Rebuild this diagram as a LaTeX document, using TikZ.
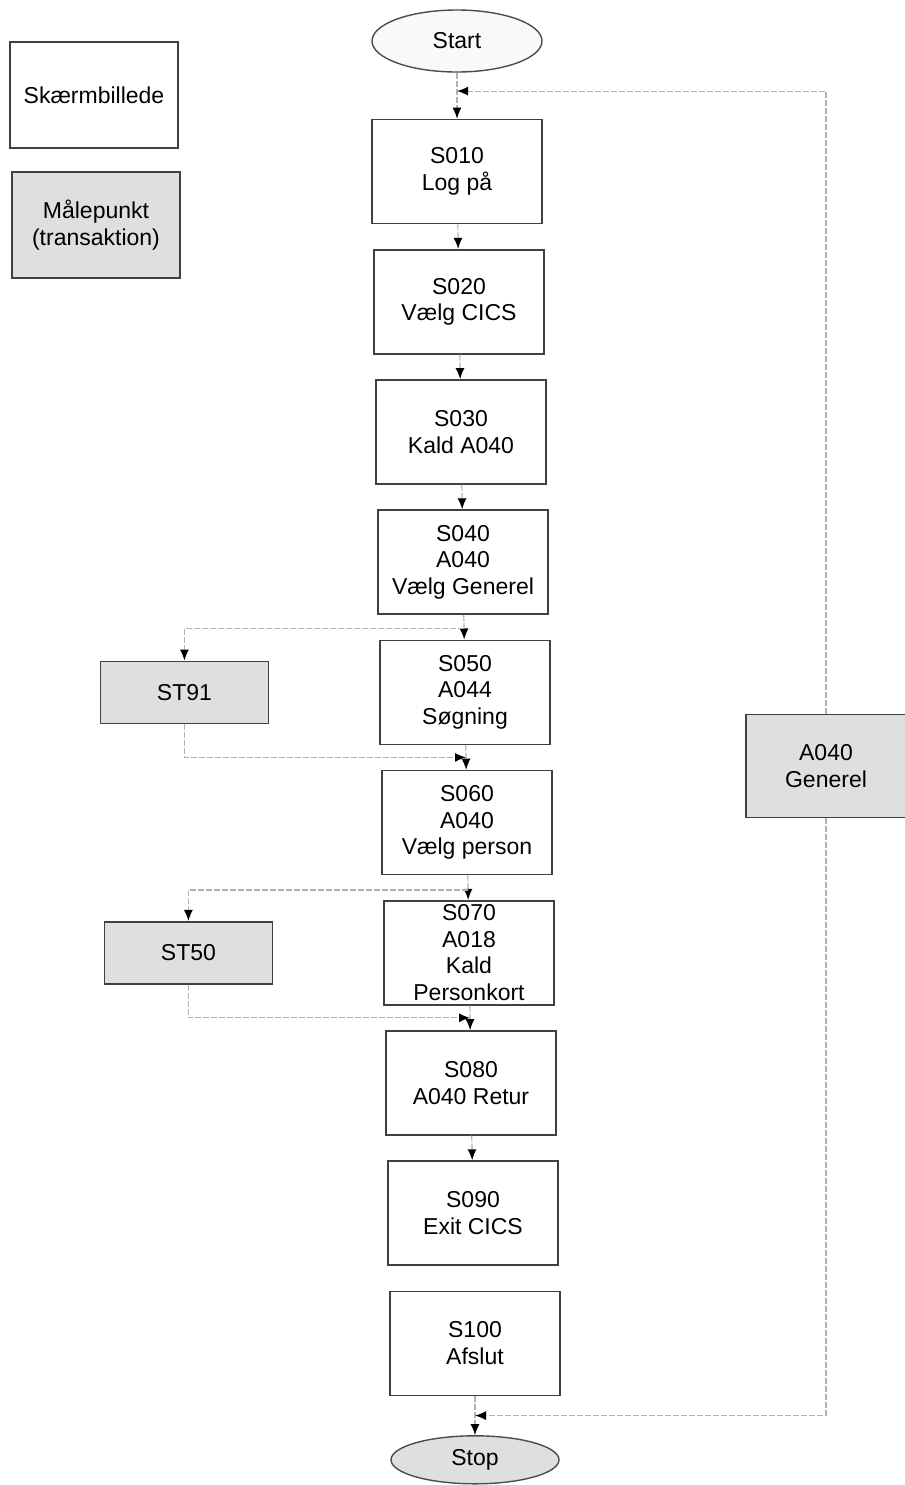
\documentclass[tikz,border=0pt]{standalone}
\usepackage{fontspec}
\setmainfont{Liberation Sans}
\usetikzlibrary{arrows.meta,positioning,shapes.geometric,calc}

\begin{document}
\begin{tikzpicture}[x=0.5pt,y=-0.5pt,node distance=12.3pt,
  font=\fontsize{11.5}{13.25}\selectfont,
  box/.style={draw=black!75,line width=0.8pt,align=center,minimum width=85pt,minimum height=52pt,inner sep=1pt,fill=white},
  mp/.style={box,fill=gray!25,minimum width=84pt,minimum height=31pt},
  term/.style={ellipse,draw=black!70,line width=0.7pt,minimum width=85pt,minimum height=31pt,inner sep=0pt},
  arr/.style={draw=gray!60,line width=0.6pt,dash pattern=on 3pt off 1pt,-{Latex[length=5.5pt,width=4.5pt,color=black]}}]
\useasboundingbox (0,0) rectangle (905,1485);
% legend
\node[box,minimum width=84pt,minimum height=53pt] (leg1) at (94,95) {Skærmbillede};
\node[box,fill=gray!25,minimum width=84pt,minimum height=53pt] (leg2) at (96,225) {Målepunkt\\(transaktion)};
% main flow
\node[term,fill=gray!5] (start) at (457,41) {Start};
\node[box,below=23pt of start] (s010) {S010\\Log på};
\node[box,below=of s010,xshift=1pt] (s020) {S020\\Vælg CICS};
\node[box,below=of s020,xshift=1pt] (s030) {S030\\Kald A040};
\node[box,below=of s030,xshift=1pt] (s040) {S040\\A040\\Vælg Generel};
\node[box,below=of s040,xshift=1pt] (s050) {S050\\A044\\Søgning};
\node[box,below=of s050,xshift=1pt] (s060) {S060\\A040\\Vælg person};
\node[box,below=of s060,xshift=1pt] (s070) {S070\\A018\\Kald\\Personkort};
\node[box,below=of s070,xshift=1pt] (s080) {S080\\A040 Retur};
\node[box,below=of s080,xshift=1pt] (s090) {S090\\Exit CICS};
\node[box,below=of s090,xshift=1pt] (s100) {S100\\Afslut};
\node[term,fill=gray!25,minimum width=84pt,minimum height=24pt,below=19.5pt of s100] (stop) {Stop};
% measuring points
\node[mp,left=55pt of s050] (st91) {ST91};
\node[mp,left=55pt of s070] (st50) {ST50};
\node[box,fill=gray!25,minimum width=80pt,minimum height=51.5pt] (gen) at (826,766) {A040\\Generel};
\coordinate (j1) at ($(s040.south)!0.55!(s050.north)$);
\coordinate (j2) at ($(s050.south)!0.5!(s060.north)$);
\coordinate (j3) at ($(s060.south)!0.6!(s070.north)$);
\coordinate (j4) at ($(s070.south)!0.5!(s080.north)$);
\coordinate (ltop) at ($(start.south)!0.4!(s010.north)$);
\coordinate (lbot) at ($(s100.south)!0.5!(stop.north)$);
\draw[arr](start)--(s010);\draw[arr](s010)--(s020);\draw[arr](s020)--(s030);\draw[arr](s030)--(s040);
\draw[arr](s040)--(s050);\draw[arr](s050)--(s060);\draw[arr](s060)--(s070);\draw[arr](s070)--(s080);
\draw[arr](s080)--(s090);\draw[arr](s100)--(stop);
\draw[arr](j1)-|(st91.north);\draw[arr](st91.south)|-(j2);
\draw[arr](j3)-|(st50.north);\draw[arr](st50.south)|-(j4);
\draw[arr](gen.north)|-(ltop);\draw[arr](gen.south)|-(lbot);
\end{tikzpicture}
\end{document}
